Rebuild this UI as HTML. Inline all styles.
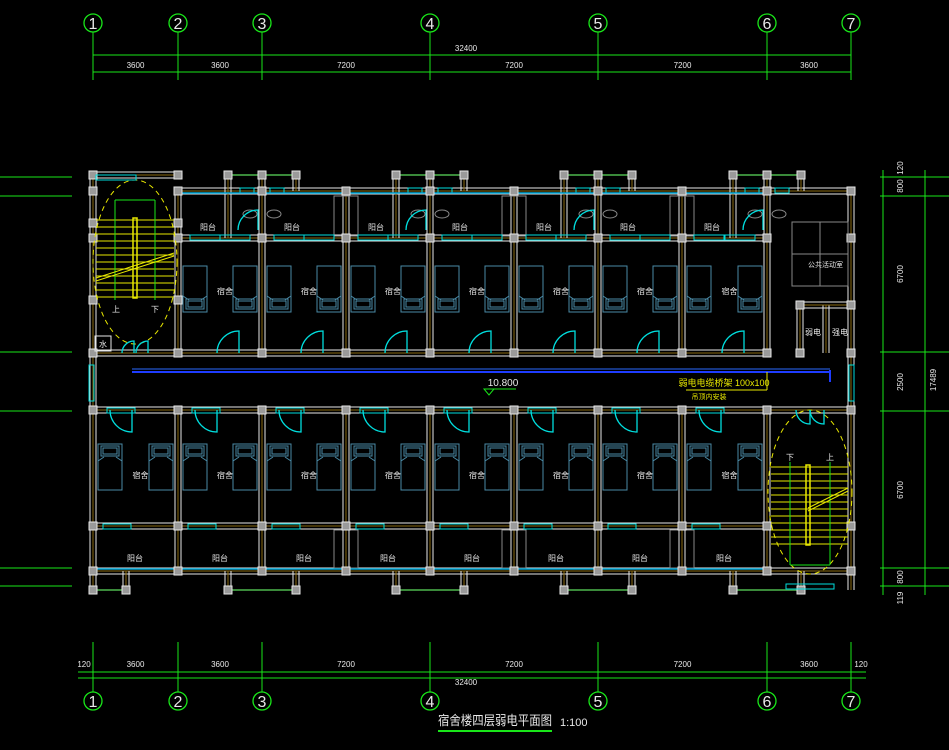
<!DOCTYPE html>
<html><head><meta charset="utf-8">
<style>
html,body{margin:0;padding:0;background:#000;width:949px;height:750px;overflow:hidden}
svg{display:block}
text{font-family:"Liberation Sans","Noto Sans CJK SC",sans-serif}
</style></head>
<body>
<svg id="s" width="949" height="750" viewBox="0 0 949 750" xmlns="http://www.w3.org/2000/svg"></svg>
<script>
const s=document.getElementById('s');
let h='';
const G='#19e619',W='#e8e8e8',B='#8a6a10',C='#00dede',BD='#4a8aa6',Y='#e8e800';
function L(x1,y1,x2,y2,c,w){h+=`<line x1="${x1}" y1="${y1}" x2="${x2}" y2="${y2}" stroke="${c}" stroke-width="${w||1}"/>`;}
function R(x,y,w,hh,c,f,sw){h+=`<rect x="${x}" y="${y}" width="${w}" height="${hh}" stroke="${c}" fill="${f||'none'}" stroke-width="${sw||1}"/>`;}
function T(x,y,t,c,sz,a,rot,tl){h+=`<text x="${x}" y="${y}" fill="${c}" font-size="${sz}" text-anchor="${a||'middle'}" ${tl?`textLength="${tl}" lengthAdjust="spacingAndGlyphs"`:''} ${rot?`transform="rotate(-90 ${x} ${y})"`:''}>${t}</text>`;}
function col(x,y){R(x-4,y-4,8,8,W,'#9a9a9a');}
function hw(x1,x2,y){L(x1,y-3,x2,y-3,W);L(x1,y+3,x2,y+3,W);L(x1,y,x2,y,B);}
function vw(x,y1,y2){L(x-3,y1,x-3,y2,W);L(x+3,y1,x+3,y2,W);L(x,y1,x,y2,B);}
function door(x,y,r,dir){
 if(dir=='up'){h+=`<path d="M${x} ${y} A${r} ${r} 0 0 1 ${x+r} ${y-r} L${x+r} ${y}" stroke="${C}" fill="none" stroke-width="1.3"/>`;}
 else{h+=`<path d="M${x} ${y} A${r} ${r} 0 0 0 ${x+r} ${y+r} L${x+r} ${y}" stroke="${C}" fill="none" stroke-width="1.3"/>`;}
}
function bed(x,y,flip){R(x,y,24,46,BD);let py=flip?y+2:y+33;R(x+3,py,18,10,BD);R(x+5,py+2,14,6,BD);
 if(flip){L(x,y+17,x+6,y+13,BD);L(x+24,y+17,x+18,y+13,BD);}else{L(x,y+30,x+6,y+34,BD);L(x+24,y+30,x+18,y+34,BD);}}
const ax=[93,178,262,346,430,514,598,682,767,851];
const nums={0:'1',1:'2',2:'3',4:'4',6:'5',8:'6',9:'7'};
for(const k in nums){const x=ax[k];
 h+=`<circle cx="${x}" cy="23" r="9" stroke="${G}" fill="none" stroke-width="1.3"/>`;T(x,29,nums[k],W,16);
 L(x,32,x,80,G);
 h+=`<circle cx="${x}" cy="701" r="9" stroke="${G}" fill="none" stroke-width="1.3"/>`;T(x,707,nums[k],W,16);
 L(x,642,x,692,G);}
L(93,55,851,55,G);L(93,72,851,72,G);
L(78,672,866,672,G);L(78,678,866,678,G);
T(466,51,'32400',W,8);T(466,685,'32400',W,8);
const sd=[[93,178,'3600'],[178,262,'3600'],[262,430,'7200'],[430,598,'7200'],[598,767,'7200'],[767,851,'3600']];
for(const d of sd){T((d[0]+d[1])/2,68,d[2],W,8);T((d[0]+d[1])/2,667,d[2],W,8);}
T(84,667,'120',W,8);T(861,667,'120',W,8);
for(const y of [177,196,352,411,568,586]){L(0,y,72,y,G);L(880,y,949,y,G);}
L(883,170,883,595,G);L(925,170,925,595,G);
const rd=[[168,'120'],[186,'800'],[274,'6700'],[382,'2500'],[490,'6700'],[577,'800'],[598,'119']];
for(const d of rd)T(903,d[0],d[1],W,8,'middle',1);
T(936,380,'17489',W,8,'middle',1);
vw(93,175,590);vw(851,190,590);
hw(93,178,175);hw(178,851,191);hw(178,770,238);hw(93,770,353);
hw(93,851,410);hw(93,770,526);hw(93,851,571);
for(const c of [262,430,598,767]){vw(c-34,175,238);vw(c+34,175,191);L(c-34,175,c+34,175,'#3a8a3a',2);
 vw(c,175,238);R(c-22,188,14,5,C);R(c+8,188,14,5,C);
 h+=`<ellipse cx="${c-12}" cy="214" rx="7" ry="4" stroke="#888" fill="none"/><ellipse cx="${c+12}" cy="214" rx="7" ry="4" stroke="#888" fill="none"/>`;
 door(c-24,238-8,20,'up');}
for(const c of [108,262,430,598,767]){const x1=c==108?93:c-34,x2=c==108?126:c+34;vw(x1,571,590);vw(x2,571,590);L(x1,590,x2,590,'#3a8a3a',2);col(x1,590);col(x2,590);}
for(let i=1;i<9;i++){vw(ax[i],191,353);}
for(let i=1;i<9;i++){vw(ax[i],410,571);}
for(const x of [346,514,682]){R(x-12,196,24,40,'#888');R(x-12,530,24,38,'#888');}
for(let i=1;i<8;i++){const a=ax[i],b=ax[i+1];R(a+12,235,30,5,C);R(b-42,235,30,5,C);L(a+4,193,b-4,193,'#00a8d8',1.5);}
for(let i=0;i<8;i++){const a=ax[i],b=ax[i+1];R(a+14,408,28,5,C);L(a+4,569,b-4,569,'#00a8d8',1.5);R(a+10,524,28,5,C);}
const cys=[191,238,353,410,526,571];
for(const x of ax)for(const y of cys)col(x,y);
for(const c of [262,430,598,767]){col(c-34,175);col(c,175);col(c+34,175);}
col(93,175);col(178,175);col(93,223);col(93,300);col(178,223);col(178,300);
for(let i=1;i<8;i++){const a=ax[i],b=ax[i+1];bed(a+5,266,0);bed(b-29,266,0);
 T((a+b)/2+5,294,'宿舍',W,8);T(a+30,230,'阳台',W,8);
 door(b-45,353,22,'up');}
for(let i=0;i<8;i++){const a=ax[i],b=ax[i+1];bed(a+5,444,1);bed(b-29,444,1);
 T((a+b)/2+5,478,'宿舍',W,8);T(a+42,561,'阳台',W,8);
 door(a+17,410,22,'down');}
h+=`<ellipse cx="135" cy="262" rx="42" ry="82" stroke="${Y}" fill="none" stroke-dasharray="5,4"/>`;
for(let y=220;y<300;y+=7)L(96,y,174,y,Y);
R(133,218,4,80,Y,'none',1.5);L(115,200,115,300,G);L(155,200,155,300,G);L(115,200,155,200,G);
L(96,278,174,253,Y);L(96,281,174,256,Y);
T(116,312,'上',W,8);T(155,312,'下',W,8);
R(95,336,16,15,W);T(103,347,'水',W,8);
door(122,353,12,'up');door(136,353,12,'up');
R(792,222,56,64,'#888');L(820,222,820,286,'#888');L(792,254,848,254,'#888');
T(808,267,'公共活动室',W,7,'start');
vw(800,305,353);vw(826,305,353);hw(800,851,305);col(800,305);col(851,305);col(800,353);col(851,353);
T(813,335,'弱电',W,8);T(840,335,'强电',W,8);
h+=`<ellipse cx="810" cy="492" rx="42" ry="82" stroke="${Y}" fill="none" stroke-dasharray="5,4"/>`;
for(let y=467;y<548;y+=7)L(771,y,848,y,Y);
R(806,465,4,80,Y,'none',1.5);L(790,462,790,565,G);L(830,462,830,565,G);L(790,565,830,565,G);
L(808,508,848,488,Y);L(808,511,848,491,Y);
T(790,460,'下',W,8);T(830,460,'上',W,8);
door(796,410,14,'down');door(810,410,14,'down');R(786,584,48,5,C);
R(89,365,5,36,C);R(849,365,5,36,C);R(96,175,40,5,C);
L(132,372,830,372,'#1e3cff',2);L(132,369,830,369,'#2a6aff',1);L(830,370,830,382,'#1e3cff',2);
h+=`<path d="M484 389 L494 389 L489 395 Z" stroke="${G}" fill="none"/>`;L(484,389,516,389,G);
T(503,386,'10.800',W,10);
T(724,386,'弱电电缆桥架 100x100',Y,9);L(686,390,767,390,Y);L(767,372,767,390,Y);T(709,399,'吊顶内安装',Y,7);
T(438,725,'宿舍楼四层弱电平面图',W,13,'start',0,114);T(560,726,'1:100',W,11,'start');
L(438,731,552,731,G,2);
s.innerHTML=h;
</script>
</body></html>
